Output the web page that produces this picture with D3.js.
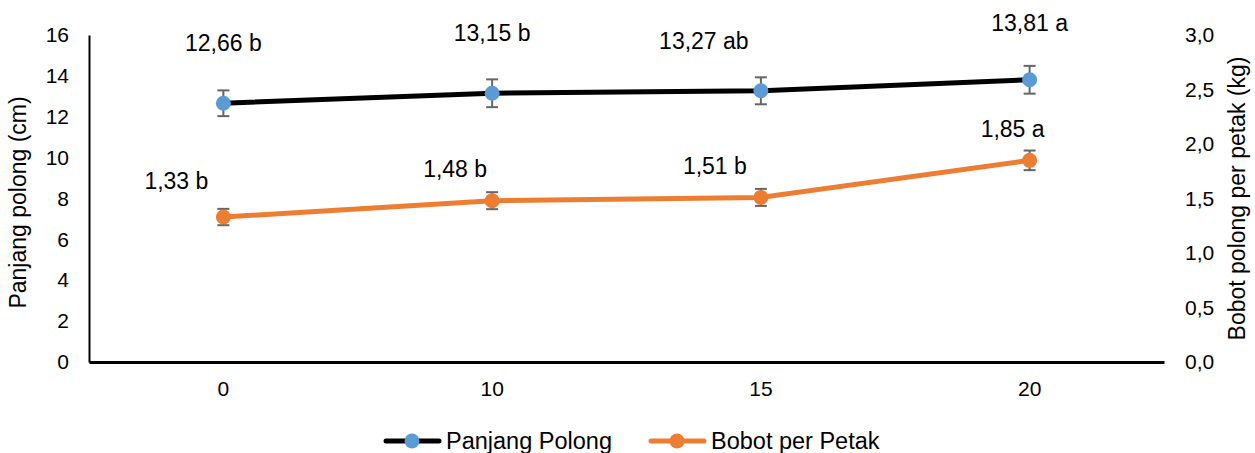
<!DOCTYPE html>
<html>
<head>
<meta charset="utf-8">
<script src="https://cdn.jsdelivr.net/npm/d3@7/dist/d3.min.js"></script>
<style>
  body { margin: 0; background: #fff; }
  text { font-family: "Liberation Sans", Arial, sans-serif; fill: #000; }
</style>
</head>
<body>
<svg id="chart" width="1255" height="453"></svg>
<script>
// Dosis perlakuan (sumbu X)
const categories = ["0", "10", "15", "20"];
// Panjang polong (cm) dan galat baku
const panjangValues = [12.66, 13.15, 13.27, 13.81];
const panjangErrors = [0.63, 0.68, 0.66, 0.68];
const panjangLabels = ["12,66 b", "13,15 b", "13,27 ab", "13,81 a"];
// Bobot polong per petak (kg) dan galat baku
const bobotValues = [1.33, 1.48, 1.51, 1.85];
const bobotErrors = [0.075, 0.078, 0.078, 0.09];
const bobotLabels = ["1,33 b", "1,48 b", "1,51 b", "1,85 a"];
// Tick sumbu
const leftTicks = [0, 2, 4, 6, 8, 10, 12, 14, 16];
const rightTicks = [0, 0.5, 1.0, 1.5, 2.0, 2.5, 3.0];

// Geser posisi label data (px) relatif terhadap titik
const panjangLabelShift = [[0, -58], [0, -58], [-57, -48], [0, -55]];
const bobotLabelShift = [[-47, -34], [-37, -30], [-46, -29], [-17, -29]];

const svg = d3.select("#chart");
const m = { left: 89, right: 1164, top: 35, bottom: 362 };

const x = d3.scaleBand().domain(categories).range([m.left, m.right]);
const yL = d3.scaleLinear().domain([0, 16]).range([m.bottom, m.top]);
const yR = d3.scaleLinear().domain([0, 3]).range([m.bottom, m.top]);
const cx = c => x(c) + x.bandwidth() / 2;

const comma = d => d.toString().replace(".", ",");
const fmtR = d => d3.format(".1f")(d).replace(".", ",");

// Sumbu kiri
const gL = svg.append("g").attr("transform", `translate(${m.left},0)`)
  .call(d3.axisLeft(yL).tickValues(leftTicks).tickSize(0).tickPadding(20).tickFormat(comma));
gL.select(".domain").attr("stroke", "#000").attr("stroke-width", 2);
gL.selectAll("text").style("font-size", "21px").attr("fill", "#000");

// Sumbu kanan (tanpa garis)
const gR = svg.append("g").attr("transform", `translate(${m.right},0)`)
  .call(d3.axisRight(yR).tickValues(rightTicks).tickSize(0).tickPadding(21).tickFormat(fmtR));
gR.select(".domain").remove();
gR.selectAll("text").style("font-size", "21px").attr("fill", "#000");

// Sumbu X
const gX = svg.append("g").attr("transform", `translate(0,${m.bottom})`)
  .call(d3.axisBottom(x).tickSize(0).tickPadding(19));
gX.select(".domain").attr("stroke", "#000").attr("stroke-width", 3);
gX.selectAll("text").style("font-size", "21px").attr("fill", "#000");

// Judul sumbu
svg.append("text").attr("transform", `translate(20,${(m.top + m.bottom) / 2 + 4}) rotate(-90)`)
  .attr("text-anchor", "middle").attr("dominant-baseline", "middle")
  .style("font-size", "23px").text("Panjang polong (cm)");
svg.append("text").attr("transform", `translate(1239,${(m.top + m.bottom) / 2}) rotate(-90)`)
  .attr("text-anchor", "middle").attr("dominant-baseline", "middle")
  .style("font-size", "23px").text("Bobot polong per petak (kg)");

function drawSeries(values, errors, y, lineColor, markerColor, labels, shifts) {
  const pts = categories.map((c, i) => ({ c, v: values[i], e: errors[i], l: labels[i], s: shifts[i] }));
  svg.append("path").datum(pts)
    .attr("fill", "none").attr("stroke", lineColor).attr("stroke-width", 5)
    .attr("stroke-linejoin", "round").attr("stroke-linecap", "round")
    .attr("d", d3.line().x(d => cx(d.c)).y(d => y(d.v)));
  const eb = svg.append("g").attr("stroke", "#666").attr("stroke-width", 2);
  pts.forEach(d => {
    const xx = cx(d.c), t = y(d.v + d.e), b = y(d.v - d.e);
    eb.append("line").attr("x1", xx).attr("x2", xx).attr("y1", t).attr("y2", b);
    eb.append("line").attr("x1", xx - 6).attr("x2", xx + 6).attr("y1", t).attr("y2", t);
    eb.append("line").attr("x1", xx - 6).attr("x2", xx + 6).attr("y1", b).attr("y2", b);
  });
  svg.append("g").selectAll("circle").data(pts).join("circle")
    .attr("cx", d => cx(d.c)).attr("cy", d => y(d.v)).attr("r", 7.5).attr("fill", markerColor);
  svg.append("g").selectAll("text").data(pts).join("text")
    .attr("x", d => cx(d.c) + d.s[0]).attr("y", d => y(d.v) + d.s[1])
    .attr("text-anchor", "middle").attr("dominant-baseline", "middle")
    .style("font-size", "23px").text(d => d.l);
}

drawSeries(panjangValues, panjangErrors, yL, "#000", "#5B9BD5", panjangLabels, panjangLabelShift);
drawSeries(bobotValues, bobotErrors, yR, "#ED7D31", "#ED7D31", bobotLabels, bobotLabelShift);

// Legenda
const legend = [
  { name: "Panjang Polong", line: "#000", marker: "#5B9BD5", x: 386 },
  { name: "Bobot per Petak", line: "#ED7D31", marker: "#ED7D31", x: 651 }
];
const lg = svg.append("g");
legend.forEach(d => {
  lg.append("line").attr("x1", d.x).attr("x2", d.x + 53).attr("y1", 441).attr("y2", 441)
    .attr("stroke", d.line).attr("stroke-width", 5).attr("stroke-linecap", "round");
  lg.append("circle").attr("cx", d.x + 26).attr("cy", 441).attr("r", 7.5).attr("fill", d.marker);
  lg.append("text").attr("x", d.x + 60).attr("y", 443).attr("dominant-baseline", "middle")
    .style("font-size", "23.5px").text(d.name);
});
</script>
</body>
</html>
